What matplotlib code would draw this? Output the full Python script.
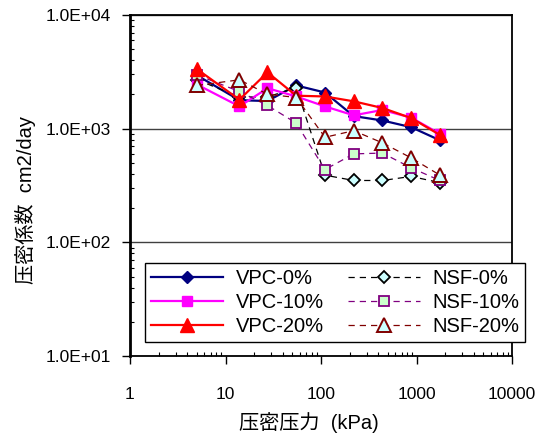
import matplotlib
matplotlib.use("Agg")
import matplotlib.pyplot as plt
from matplotlib.ticker import LogLocator, FixedLocator, NullFormatter

plt.rcParams['font.family'] = ['Liberation Sans', 'Noto Sans CJK JP', 'DejaVu Sans']

# consolidation pressure (kPa)
pressure = [5, 14, 27.5, 55, 110, 220, 440, 880, 1760]

# coefficient of consolidation (cm2/day)
vpc_0 = [2950, 1780, 1750, 2400, 2080, 1290, 1180, 1030, 790]
vpc_10 = [2450, 1570, 2270, 1920, 1570, 1310, 1460, 1250, 900]
vpc_20 = [3350, 1800, 3130, 1950, 1920, 1740, 1520, 1240, 880]
nsf_0 = [2700, 1900, 1900, 2300, 390, 350, 350, 380, 335]
nsf_10 = [2980, 2120, 1600, 1120, 437, 600, 610, 452, 350]
nsf_20 = [2400, 2690, 2010, 1880, 840, 960, 750, 553, 390]

x_ticks = [1, 10, 100, 1000, 10000]
x_tick_labels = ["1", "10", "100", "1000", "10000"]
y_ticks = [10, 100, 1000, 10000]
y_tick_labels = ["1.0E+01", "1.0E+02", "1.0E+03", "1.0E+04"]

fig = plt.figure(figsize=(5.5, 4.37), dpi=100)
ax = fig.add_axes([130 / 550, 1 - 356 / 437, 382 / 550, 341 / 437])

solid = dict(linestyle='-', linewidth=1.6)
dashed = dict(linestyle=(0, (5, 4)), linewidth=0.9)

# series are drawn in the order VPC-0, NSF-0, VPC-10, NSF-10, VPC-20, NSF-20
h_v0, = ax.plot(pressure, vpc_0, color='#000080', marker='D', ms=6.5,
                mfc='#000080', mec='#000080', label='VPC-0%', **solid)
h_n0, = ax.plot(pressure, nsf_0, color='black', marker='D', ms=6.5,
                mfc='#CCFFFF', mec='black', mew=1.3, label='NSF-0%', **dashed)
h_v10, = ax.plot(pressure, vpc_10, color='#FF00FF', marker='s', ms=7.5,
                 mfc='#FF00FF', mec='#FF00FF', label='VPC-10%', **solid)
h_n10, = ax.plot(pressure, nsf_10, color='#800080', marker='s', ms=7.5,
                 mfc='#CCFFCC', mec='#800080', mew=1.3, label='NSF-10%', **dashed)
h_v20, = ax.plot(pressure, vpc_20, color='#FF0000', marker='^', ms=9.5,
                 mfc='#FF0000', mec='#FF0000', label='VPC-20%', **solid)
h_n20, = ax.plot(pressure, nsf_20, color='#800000', marker='^', ms=9.5,
                 mfc='#CCFFFF', mec='#800000', mew=1.4, label='NSF-20%', **dashed)

ax.set_xscale('log')
ax.set_yscale('log')
ax.set_xlim(1, 10000)
ax.set_ylim(10, 10000)

ax.xaxis.set_major_locator(FixedLocator(x_ticks))
ax.set_xticklabels(x_tick_labels)
ax.yaxis.set_major_locator(FixedLocator(y_ticks))
ax.set_yticklabels(y_tick_labels)
ax.xaxis.set_minor_locator(LogLocator(base=10, subs=range(2, 10)))
ax.yaxis.set_minor_locator(LogLocator(base=10, subs=range(2, 10)))
ax.xaxis.set_minor_formatter(NullFormatter())
ax.yaxis.set_minor_formatter(NullFormatter())

ax.tick_params(axis='both', which='major', direction='out', length=6, width=1,
               labelsize=12.5, colors='black')
ax.tick_params(axis='x', which='major', pad=16)
ax.tick_params(axis='y', which='major', pad=8)
ax.tick_params(axis='both', which='minor', direction='in', length=3, width=0.8)

ax.yaxis.grid(True, which='major', color='#404040', linewidth=1)
ax.set_axisbelow(True)

for side in ['top', 'right', 'bottom']:
    ax.spines[side].set_linewidth(1.3)
    ax.spines[side].set_color('black')
ax.spines['left'].set_linewidth(2)
ax.spines['left'].set_color('black')

fig.text(309 / 550, 1 - 423 / 437, '压密压力  (kPa)', ha='center', va='center',
         fontsize=14.5)
fig.text(26 / 550, 1 - 200 / 437, '压密係数  cm2/day', ha='center', va='center',
         rotation=90, fontsize=14.5)

leg = ax.legend(handles=[h_v0, h_v10, h_v20, h_n0, h_n10, h_n20], ncol=2,
                loc='lower left', bbox_to_anchor=(0.039, 0.041),
                borderaxespad=0, fontsize=14.5, handlelength=3.6,
                labelspacing=0.25, columnspacing=1.2, handletextpad=0.6,
                borderpad=0.3, fancybox=False, framealpha=1, edgecolor='black')
leg.get_frame().set_linewidth(1)

fig.savefig('out.png', dpi=100)
